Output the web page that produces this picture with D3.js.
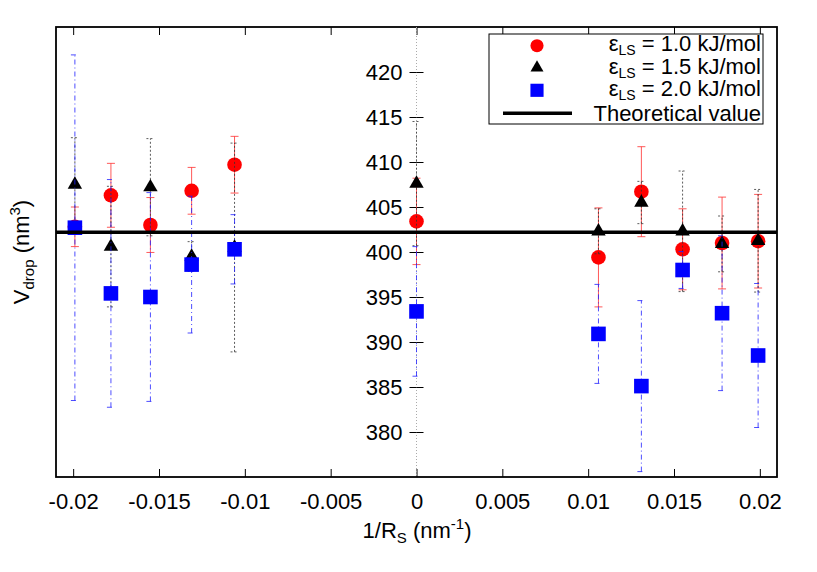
<!DOCTYPE html>
<html>
<head>
<meta charset="utf-8">
<script src="https://cdn.jsdelivr.net/npm/d3@7"></script>
<style>
  html, body { margin: 0; padding: 0; background: #fff; }
  svg { display: block; font-family: "Liberation Sans", Arial, Helvetica, sans-serif; }
</style>
</head>
<body>
<svg id="chart" width="817" height="572"></svg>
<script>
// ---- data ----
const xValues   = [-0.0199, -0.0178, -0.0155, -0.0131, -0.0106, 0, 0.0106, 0.0131, 0.0155, 0.0178, 0.0199];
const eps10     = [402.8, 406.3, 403.0, 406.8, 409.7, 403.4, 399.4, 406.7, 400.3, 401.0, 401.2];
const eps10Err  = [2.2, 3.55, 3.05, 2.6, 3.15, 4.8, 5.5, 5.0, 4.5, 5.1, 5.2];
const eps15     = [407.5, 400.6, 407.2, 399.5, 400.5, 407.6, 402.3, 405.5, 402.3, 400.9, 401.25];
const eps15Err  = [5.2, 6.7, 5.4, 1.65, 11.6, 6.9, 2.5, 2.35, 6.7, 3.1, 5.7];
const eps20     = [402.7, 395.4, 395.0, 398.6, 400.3, 393.4, 390.9, 385.1, 398.0, 393.2, 388.5];
const eps20Err  = [19.2, 12.65, 11.6, 7.6, 3.85, 7.2, 5.5, 9.5, 2.05, 8.6, 8.0];
const theoretical = 402.2;
const xTicks = [-0.02, -0.015, -0.01, -0.005, 0, 0.005, 0.01, 0.015, 0.02];
const yTicks = [380, 385, 390, 395, 400, 405, 410, 415, 420];
const legendLabels = ["1.0 kJ/mol", "1.5 kJ/mol", "2.0 kJ/mol"];

// ---- layout ----
const svg = d3.select("#chart");
const L = 56, R = 777, T = 27, B = 477;
const x = d3.scaleLinear().domain([-0.021, 0.021]).range([L, R]);
const y = d3.scaleLinear().domain([375, 425]).range([B, T]);
const FS = 22;

// frame
svg.append("rect").attr("x", L).attr("y", T).attr("width", R - L).attr("height", B - T)
  .attr("fill", "none").attr("stroke", "#000").attr("stroke-width", 1.8);

// x-axes (ticks inward)
const fmt = d => String(+d.toFixed(3));
const xb = svg.append("g").attr("transform", `translate(0,${B})`)
  .call(d3.axisBottom(x).tickValues(xTicks).tickSizeInner(-8).tickSizeOuter(0).tickPadding(16).tickFormat(fmt));
xb.select(".domain").remove();
xb.selectAll("text").attr("font-size", FS).attr("font-family", "Liberation Sans, Arial, sans-serif").attr("fill", "#000");
xb.selectAll("line").attr("stroke", "#000");
const xt = svg.append("g").attr("transform", `translate(0,${T})`)
  .call(d3.axisTop(x).tickValues(xTicks).tickSizeInner(-8).tickSizeOuter(0).tickFormat(""));
xt.select(".domain").remove();
xt.selectAll("line").attr("stroke", "#000");

// y-axis at x = 0 : dotted zero line + ticks both sides
const x0 = x(0);
svg.append("line").attr("x1", x0).attr("x2", x0).attr("y1", T).attr("y2", B)
  .attr("stroke", "#aaa").attr("stroke-width", 1).attr("stroke-dasharray", "1,2");
const yl = svg.append("g").attr("transform", `translate(${x0},0)`)
  .call(d3.axisLeft(y).tickValues(yTicks).tickSize(7).tickPadding(7).tickFormat(d => String(d)));
yl.select(".domain").remove();
yl.selectAll("text").attr("font-size", FS).attr("font-family", "Liberation Sans, Arial, sans-serif").attr("fill", "#000");
yl.selectAll("line").attr("stroke", "#000");
const yr = svg.append("g").attr("transform", `translate(${x0},0)`)
  .call(d3.axisRight(y).tickValues(yTicks).tickSize(7).tickFormat(""));
yr.select(".domain").remove();
yr.selectAll("line").attr("stroke", "#000");

// ---- series ----
const series = [
  {vals: eps10, errs: eps10Err, color: "#ff0000", barColor: "#ff3030", dash: null, shape: "circle"},
  {vals: eps15, errs: eps15Err, color: "#000000", barColor: "#333333", dash: "2,2", shape: "triangle"},
  {vals: eps20, errs: eps20Err, color: "#0000ff", barColor: "#2020ff", dash: "5,3,1,3", shape: "square"}
];

function drawMarker(g, shape, cx, cy, color, s) {
  if (shape === "circle") {
    g.append("circle").attr("cx", cx).attr("cy", cy).attr("r", 7.3 * s).attr("fill", color);
  } else if (shape === "square") {
    const h = 7.3 * s;
    g.append("rect").attr("x", cx - h).attr("y", cy - h).attr("width", 2 * h).attr("height", 2 * h).attr("fill", color);
  } else {
    g.append("path").attr("transform", `translate(${cx},${cy})`)
      .attr("d", d3.symbol().type(d3.symbolTriangle).size(90 * s * s)()).attr("fill", color);
  }
}

series.forEach(sr => {
  const g = svg.append("g");
  const bars = g.append("g").attr("stroke", sr.barColor).attr("stroke-width", 1)
    .attr("stroke-opacity", 0.8).attr("fill", "none");
  if (sr.dash) bars.attr("stroke-dasharray", sr.dash);
  xValues.forEach((xv, i) => {
    const cx = x(xv), lo = y(sr.vals[i] - sr.errs[i]), hi = y(sr.vals[i] + sr.errs[i]);
    bars.append("line").attr("x1", cx).attr("x2", cx).attr("y1", lo).attr("y2", hi);
    bars.append("line").attr("x1", cx - 4).attr("x2", cx + 4).attr("y1", lo).attr("y2", lo).attr("stroke-dasharray", null);
    bars.append("line").attr("x1", cx - 4).attr("x2", cx + 4).attr("y1", hi).attr("y2", hi).attr("stroke-dasharray", null);
  });
  xValues.forEach((xv, i) => drawMarker(g, sr.shape, x(xv), y(sr.vals[i]), sr.color, 1));
});

// theoretical line
svg.append("line").attr("x1", L).attr("x2", R).attr("y1", y(theoretical)).attr("y2", y(theoretical))
  .attr("stroke", "#000").attr("stroke-width", 3.5);

// ---- legend ----
const lg = svg.append("g");
lg.append("rect").attr("x", 489).attr("y", 34).attr("width", 274).attr("height", 90)
  .attr("fill", "#fff").attr("stroke", "#000").attr("stroke-width", 1);
const symY = [45.7, 67.7, 90.3];
const txtY = [51, 73.5, 96];
series.forEach((sr, i) => {
  drawMarker(lg, sr.shape, 537, symY[i], sr.color, 0.9);
  const t = lg.append("text").attr("x", 761).attr("y", txtY[i]).attr("text-anchor", "end")
    .attr("font-size", FS).attr("fill", "#000");
  t.append("tspan").text("ε");
  t.append("tspan").attr("font-size", 14).attr("dy", 4).text("LS");
  t.append("tspan").attr("dy", -4).text(" = " + legendLabels[i]);
});
lg.append("line").attr("x1", 503).attr("x2", 572).attr("y1", 113.3).attr("y2", 113.3)
  .attr("stroke", "#000").attr("stroke-width", 3.5);
lg.append("text").attr("x", 761).attr("y", 121).attr("text-anchor", "end")
  .attr("font-size", FS).attr("fill", "#000").text("Theoretical value");

// ---- axis titles ----
const xtitle = svg.append("text").attr("x", 417).attr("y", 538).attr("text-anchor", "middle")
  .attr("font-size", FS).attr("fill", "#000");
xtitle.append("tspan").text("1/R");
xtitle.append("tspan").attr("font-size", 15).attr("dy", 5).text("S");
xtitle.append("tspan").attr("dy", -5).text(" (nm");
xtitle.append("tspan").attr("font-size", 15).attr("dy", -9).text("-1");
xtitle.append("tspan").attr("dy", 9).text(")");

const ytitle = svg.append("text").attr("transform", "translate(29,252) rotate(-90)")
  .attr("text-anchor", "middle").attr("font-size", FS).attr("fill", "#000");
ytitle.append("tspan").text("V");
ytitle.append("tspan").attr("font-size", 15).attr("dy", 5).text("drop");
ytitle.append("tspan").attr("dy", -5).text(" (nm");
ytitle.append("tspan").attr("font-size", 15).attr("dy", -9).text("3");
ytitle.append("tspan").attr("dy", 9).text(")");
</script>
</body>
</html>
